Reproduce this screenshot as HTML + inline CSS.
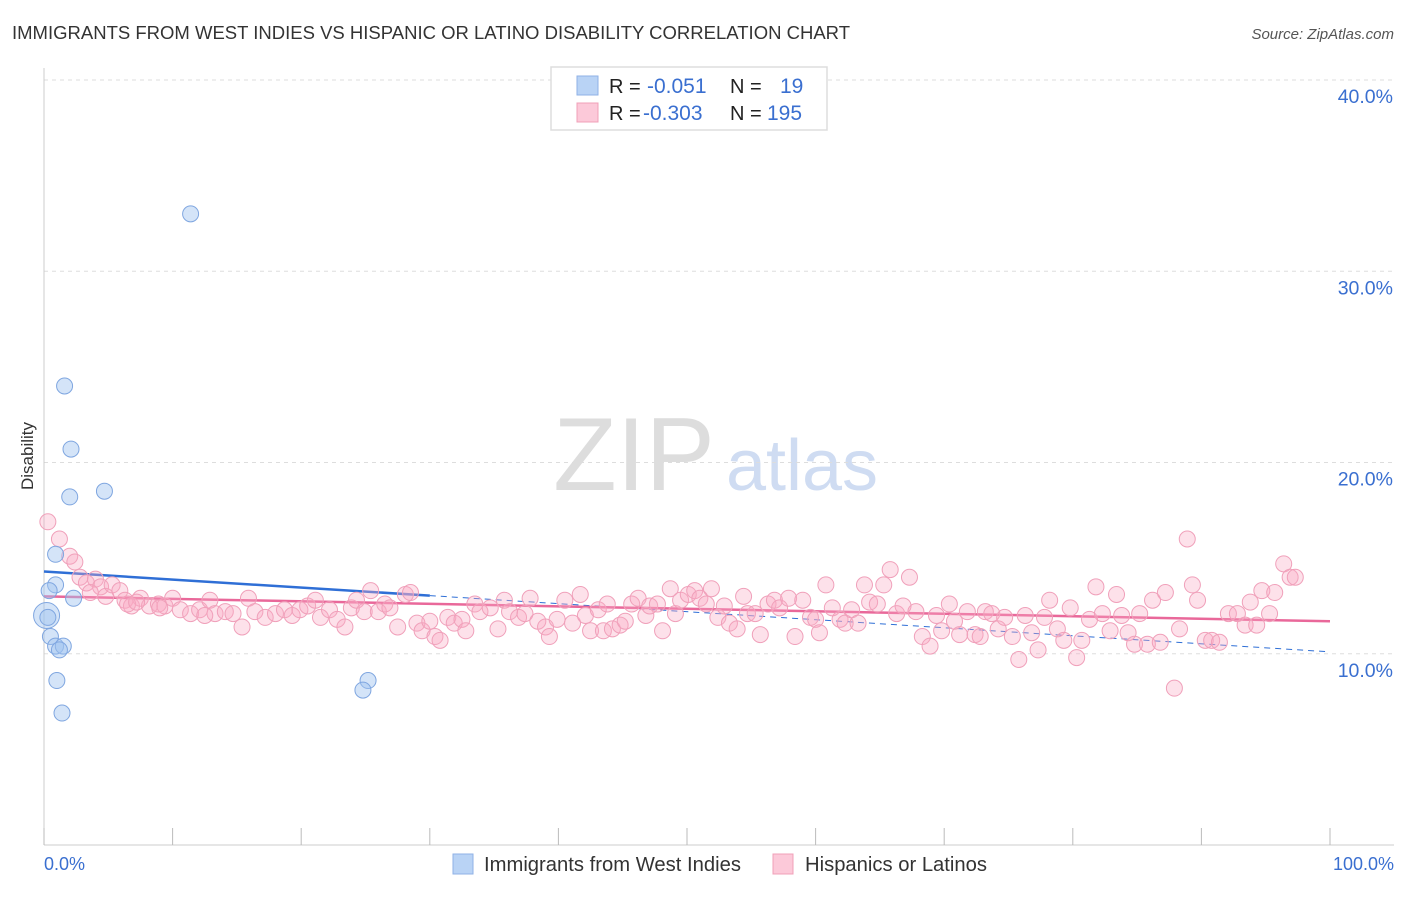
<!DOCTYPE html>
<html><head><meta charset="utf-8"><style>
body{margin:0;background:#fff;font-family:"Liberation Sans",sans-serif;}
svg text{font-family:"Liberation Sans",sans-serif;}
</style></head><body>
<svg id="chart" width="1406" height="892" xmlns="http://www.w3.org/2000/svg">
<text x="12" y="39" font-size="18" fill="#333" textLength="838" lengthAdjust="spacingAndGlyphs">IMMIGRANTS FROM WEST INDIES VS HISPANIC OR LATINO DISABILITY CORRELATION CHART</text>
<text x="1394" y="39" font-size="15" fill="#555" font-style="italic" text-anchor="end">Source: ZipAtlas.com</text>
<text x="33" y="456" font-size="17" fill="#333" transform="rotate(-90 33 456)" text-anchor="middle">Disability</text>
<g>
<text x="634" y="490" font-size="104" fill="#ddd" font-family="Liberation Serif" text-anchor="middle">ZIP</text>
<text x="802" y="490" font-size="72" fill="#cfdcf2" text-anchor="middle">atlas</text>
</g>
<g id="grid"></g><g id="axes"></g><g id="lines"></g><g id="pts"></g>
<g>
<rect x="551" y="67" width="276" height="63" fill="#fff" stroke="#ddd" stroke-width="1.5"/>
<rect x="577" y="76" width="21" height="19" fill="#b9d3f5" stroke="#8fb2e6"/>
<rect x="577" y="103" width="21" height="19" fill="#fcc9d9" stroke="#f0a0b8"/>
<text x="609" y="93" font-size="20" fill="#222">R = </text><text x="647" y="93" font-size="21" fill="#3a6fd0">-0.051</text>
<text x="730" y="93" font-size="20" fill="#222">N = </text><text x="780" y="93" font-size="21" fill="#3a6fd0">19</text>
<text x="609" y="120" font-size="20" fill="#222">R = </text><text x="643" y="120" font-size="21" fill="#3a6fd0">-0.303</text>
<text x="730" y="120" font-size="20" fill="#222">N = </text><text x="767" y="120" font-size="21" fill="#3a6fd0">195</text>
</g>
<g>
<rect x="453" y="854" width="20" height="20" fill="#b9d3f5" stroke="#8fb2e6"/>
<text x="484" y="871" font-size="20" fill="#333" textLength="257" lengthAdjust="spacingAndGlyphs">Immigrants from West Indies</text>
<rect x="773" y="854" width="20" height="20" fill="#fcc9d9" stroke="#f0a0b8"/>
<text x="805" y="871" font-size="20" fill="#333" textLength="182" lengthAdjust="spacingAndGlyphs">Hispanics or Latinos</text>
</g>
<text x="44" y="870" font-size="18" fill="#3a6fd0">0.0%</text>
<text x="1394" y="870" font-size="18" fill="#3a6fd0" text-anchor="end">100.0%</text>
</svg>
<script>
const yTicks=[10,20,30,40];
const yTickLabels=["10.0%","20.0%","30.0%","40.0%"];
const xTicks=[0,10,20,30,40,50,60,70,80,90,100];
const blueX=[11.4,1.6,2.1,2.0,4.7,0.9,0.9,0.4,2.3,0.2,0.5,0.9,1.5,1.2,1.0,1.4,25.2,24.8,0.3];
const blueY=[33.0,24.0,20.7,18.2,18.5,15.2,13.6,13.3,12.9,12.0,10.9,10.4,10.4,10.2,8.6,6.9,8.6,8.1,11.9];
const blueR=[8,8,8,8,8,8,8,8,8,13,8,8,8,8,8,8,8,8,8];
const pinkX=[0.3,1.2,2.0,2.4,2.8,3.3,4.0,4.4,4.8,5.3,5.9,6.3,6.8,7.5,8.2,8.9,9.4,10.0,10.6,11.4,12.1,12.9,13.3,14.1,14.7,15.4,15.9,16.4,17.2,18.0,18.7,19.3,19.9,20.5,21.1,21.5,22.2,22.8,23.4,23.9,24.3,24.9,25.4,26.0,26.5,26.9,27.5,28.1,28.5,29.0,29.4,30.0,30.4,30.8,31.4,31.9,32.5,32.8,33.5,33.9,34.7,35.3,35.8,36.2,36.9,37.4,37.8,38.4,39.0,39.3,39.9,40.5,41.1,41.7,42.1,42.5,43.1,43.5,43.8,44.2,44.8,45.2,45.7,46.2,46.8,47.1,47.7,48.1,48.7,49.1,49.5,50.1,50.6,51.0,51.5,51.9,52.4,52.9,53.3,53.9,54.4,54.7,55.3,55.7,56.3,56.8,57.2,57.9,58.4,59.0,59.6,60.0,60.3,60.8,61.3,61.9,62.3,62.8,63.3,63.8,64.2,64.8,65.3,65.8,66.3,66.8,67.3,67.8,68.3,68.9,69.4,69.8,70.4,70.8,71.2,71.8,72.4,72.8,73.2,73.7,74.2,74.7,75.3,75.8,76.3,76.8,77.3,77.8,78.2,78.8,79.3,79.8,80.3,80.7,81.3,81.8,82.3,82.9,83.4,83.8,84.3,84.8,85.2,85.8,86.2,86.8,87.2,87.9,88.3,88.9,89.3,89.7,90.3,90.8,91.4,92.1,92.8,93.4,93.8,94.3,94.7,95.3,95.7,96.4,96.9,97.3,6.5,9.0,12.5,3.6,7.2];
const pinkY=[16.9,16.0,15.1,14.8,14.0,13.7,13.9,13.5,13.0,13.6,13.3,12.8,12.5,12.9,12.5,12.6,12.5,12.9,12.3,12.1,12.3,12.8,12.1,12.2,12.1,11.4,12.9,12.2,11.9,12.1,12.3,12.0,12.3,12.5,12.8,11.9,12.3,11.8,11.4,12.4,12.8,12.2,13.3,12.2,12.6,12.4,11.4,13.1,13.2,11.6,11.2,11.7,10.9,10.7,11.9,11.6,11.8,11.2,12.6,12.2,12.4,11.3,12.8,12.2,11.9,12.1,12.9,11.7,11.4,10.9,11.8,12.8,11.6,13.1,12.0,11.2,12.3,11.2,12.6,11.3,11.5,11.7,12.6,12.9,12.0,12.5,12.6,11.2,13.4,12.1,12.8,13.1,13.3,12.9,12.6,13.4,11.9,12.5,11.6,11.3,13.0,12.1,12.1,11.0,12.6,12.8,12.4,12.9,10.9,12.8,11.9,11.8,11.1,13.6,12.4,11.8,11.6,12.3,11.6,13.6,12.7,12.6,13.6,14.4,12.1,12.5,14.0,12.2,10.9,10.4,12.0,11.2,12.6,11.7,11.0,12.2,11.0,10.9,12.2,12.1,11.3,11.9,10.9,9.7,12.0,11.1,10.2,11.9,12.8,11.3,10.7,12.4,9.8,10.7,11.8,13.5,12.1,11.2,13.1,12.0,11.1,10.5,12.1,10.5,12.8,10.6,13.2,8.2,11.3,16.0,13.6,12.8,10.7,10.7,10.6,12.1,12.1,11.5,12.7,11.5,13.3,12.1,13.2,14.7,14.0,14.0,12.6,12.4,12.0,13.2,12.7];
const pinkTrend=[13.0,11.7];
const blueTrend=[14.3,10.1];
const blueSolidEnd=30;
const NS="http://www.w3.org/2000/svg";
const L=44,R=1330,T=80,B=845;
const xs=v=>L+(R-L)*v/100;
const ys=v=>B-(B-T)*v/40;
function mk(tag,attrs,parent){const e=document.createElementNS(NS,tag);for(const k in attrs)e.setAttribute(k,attrs[k]);document.getElementById(parent).appendChild(e);return e;}
yTicks.forEach((t,i)=>{
 const g=mk('line',{x1:L,x2:1394,y1:ys(t),y2:ys(t),stroke:'#ddd','stroke-dasharray':'4,4'},'grid');
 
 
 const tx=mk('text',{x:1393,y:ys(t)+23,'font-size':19.5,fill:'#3a6fd0','text-anchor':'end'},'grid');
 tx.textContent=yTickLabels[i];
 
 
});
const ax=mk('line',{x1:L,x2:L,y1:68,y2:B,stroke:'#ccc'},'axes');


const bx=mk('line',{x1:L,x2:1394,y1:B,y2:B,stroke:'#ccc'},'axes');


xTicks.forEach(t=>{
 const e=mk('line',{x1:xs(t),x2:xs(t),y1:828,y2:B,stroke:'#bbb'},'axes');
 
 
});
pinkX.forEach((x,i)=>{
 const c=mk('circle',{cx:xs(x),cy:ys(pinkY[i]),r:8,fill:'rgba(248,170,195,0.35)',stroke:'#f0a0ba','stroke-width':1},'pts');
 
 
});
blueX.forEach((x,i)=>{
 const c=mk('circle',{cx:xs(x),cy:ys(blueY[i]),r:blueR[i],fill:'rgba(160,195,240,0.45)',stroke:'#7fa6e0','stroke-width':1},'pts');
 
 
});
const bAt=x=>blueTrend[0]+(blueTrend[1]-blueTrend[0])*x/100;
const bs=mk('line',{x1:xs(0),y1:ys(blueTrend[0]),x2:xs(blueSolidEnd),y2:ys(bAt(blueSolidEnd)),stroke:'#2f6fd6','stroke-width':2.5},'lines');


const bd=mk('line',{x1:xs(blueSolidEnd),y1:ys(bAt(blueSolidEnd)),x2:xs(100),y2:ys(blueTrend[1]),stroke:'#2f6fd6','stroke-width':1,'stroke-dasharray':'6,5'},'lines');


const pl=mk('line',{x1:xs(0),y1:ys(pinkTrend[0]),x2:xs(100),y2:ys(pinkTrend[1]),stroke:'#e9689a','stroke-width':2.5},'lines');


</script>
</body></html>
